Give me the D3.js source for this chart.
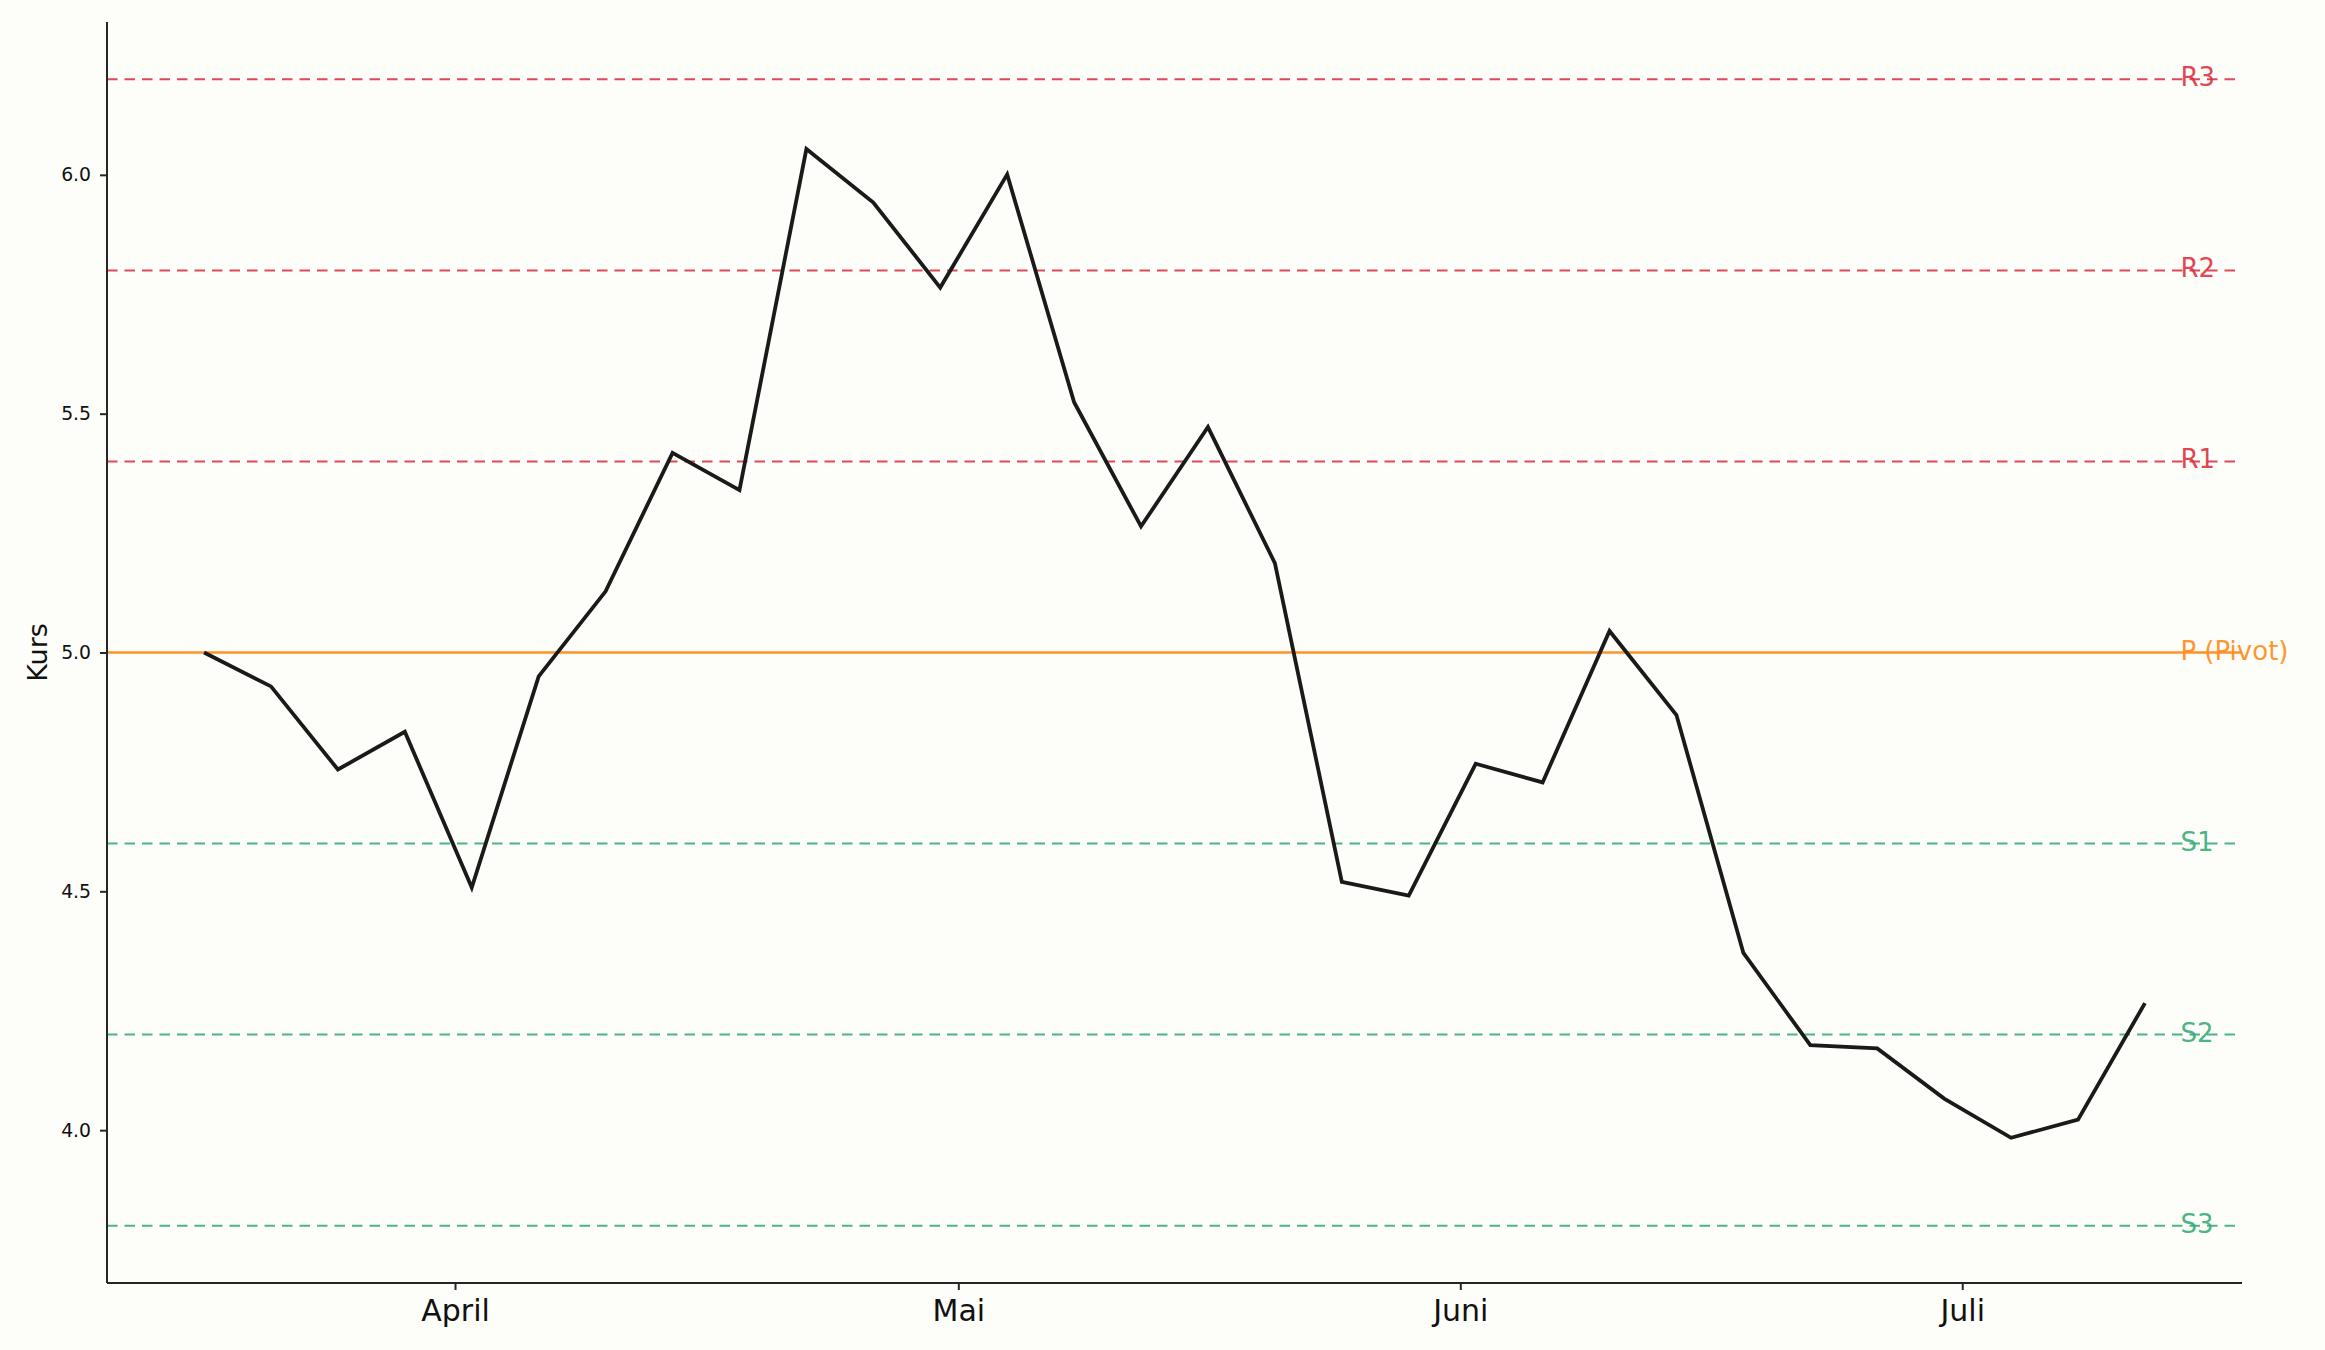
<!DOCTYPE html>
<html>
<head>
<meta charset="utf-8">
<script src="https://cdn.jsdelivr.net/npm/d3@7"></script>
<style>
  html, body { margin: 0; padding: 0; background: #fdfdf9; }
  svg { display: block; }
  text { font-family: "DejaVu Sans", sans-serif; }
</style>
</head>
<body>
<svg id="chart" width="2325" height="1350"></svg>
<script>
// ---- data ----
const kurs = [5.000, 4.929, 4.755, 4.834, 4.508, 4.950, 5.128, 5.418, 5.340, 6.054,
              5.942, 5.764, 6.001, 5.524, 5.264, 5.472, 5.187, 4.520, 4.491, 4.767,
              4.728, 5.045, 4.869, 4.371, 4.178, 4.171, 4.066, 3.984, 4.022, 4.266];
const levelNames  = ["R3", "R2", "R1", "P (Pivot)", "S1", "S2", "S3"];
const levelValues = [6.2, 5.8, 5.4, 5.0, 4.6, 4.2, 3.8];
const levelKinds  = ["res", "res", "res", "pivot", "sup", "sup", "sup"];
const monthLabels = ["April", "Mai", "Juni", "Juli"];
const monthPos    = [3.75, 11.27, 18.77, 26.27];
const yTicks      = [4.0, 4.5, 5.0, 5.5, 6.0];
const yLabel      = "Kurs";

// ---- layout ----
const W = 2325, H = 1350;
const L = 107, R = 2242, T = 22, B = 1283;
const colors = { res: "#dc3545", pivot: "#ff8c1a", sup: "#3aad78" };

const svg = d3.select("#chart");
svg.append("rect").attr("width", W).attr("height", H).attr("fill", "#fdfdf9");

const n = kurs.length;
const xPad = (n - 1) * 0.05;
const x = d3.scaleLinear().domain([-xPad, (n - 1) + xPad]).range([L, R]);
const yMin = d3.min(levelValues.concat(kurs)), yMax = d3.max(levelValues.concat(kurs));
const yPad = (yMax - yMin) * 0.05;
const y = d3.scaleLinear().domain([yMin - yPad, yMax + yPad]).range([B, T]);

// level lines
const lv = levelNames.map((name, i) => ({ name, v: levelValues[i], kind: levelKinds[i] }));
svg.append("g").selectAll("line").data(lv).join("line")
  .attr("x1", L).attr("x2", R)
  .attr("y1", d => y(d.v)).attr("y2", d => y(d.v))
  .attr("stroke", d => colors[d.kind])
  .attr("stroke-opacity", d => d.kind === "pivot" ? 0.95 : 0.9)
  .attr("stroke-width", d => d.kind === "pivot" ? 2.6 : 2)
  .attr("stroke-dasharray", d => d.kind === "pivot" ? null : "10.5,7");

// price line
const line = d3.line().x((d, i) => x(i)).y(d => y(d));
svg.append("path").datum(kurs)
  .attr("d", line)
  .attr("fill", "none")
  .attr("stroke", "#1a1a1a")
  .attr("stroke-width", 3.8)
  .attr("stroke-linejoin", "miter");

// level labels
svg.append("g").selectAll("text").data(lv).join("text")
  .attr("x", x(n - 1 + 0.53))
  .attr("y", d => y(d.v) + 7)
  .attr("font-size", 26)
  .attr("fill", d => colors[d.kind])
  .attr("fill-opacity", 0.92)
  .text(d => d.name);

// axes
const yAxis = d3.axisLeft(y).tickValues(yTicks).tickFormat(d3.format(".1f")).tickSize(7).tickPadding(9);
const gy = svg.append("g").attr("transform", `translate(${L},0)`).call(yAxis);
gy.select(".domain").attr("d", `M0,${T}V${B}`).attr("stroke", "#262626").attr("stroke-width", 2);
gy.selectAll(".tick line").attr("stroke", "#262626").attr("stroke-width", 2);
gy.selectAll(".tick text").attr("font-size", 18.8).attr("fill", "#111").attr("font-family", "DejaVu Sans");

const xAxis = d3.axisBottom(x).tickValues(monthPos).tickFormat((d, i) => monthLabels[i]).tickSize(7).tickPadding(10);
const gx = svg.append("g").attr("transform", `translate(0,${B})`).call(xAxis);
gx.select(".domain").attr("d", `M${L},0H${R}`).attr("stroke", "#262626").attr("stroke-width", 2);
gx.selectAll(".tick line").attr("stroke", "#262626").attr("stroke-width", 2);
gx.selectAll(".tick text").attr("font-size", 30).attr("fill", "#111").attr("font-family", "DejaVu Sans");

// y label
svg.append("text")
  .attr("transform", `translate(47,${(T + B) / 2}) rotate(-90)`)
  .attr("text-anchor", "middle")
  .attr("font-size", 27)
  .attr("fill", "#111")
  .text(yLabel);
</script>
</body>
</html>
